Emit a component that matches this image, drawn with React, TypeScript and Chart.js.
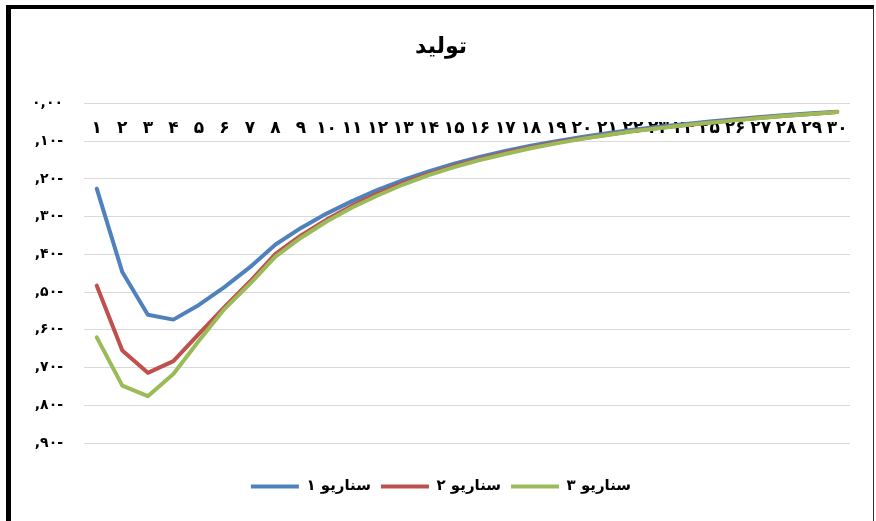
import React, { useEffect, useRef } from 'react';
import { Chart, registerables } from 'chart.js';

Chart.register(...registerables);

// Periods along the horizontal axis
const periods = [
  1, 2, 3, 4, 5, 6, 7, 8, 9, 10, 11, 12, 13, 14, 15,
  16, 17, 18, 19, 20, 21, 22, 23, 24, 25, 26, 27, 28, 29, 30,
];

// Production response per scenario
const scenario1 = [
  -0.226, -0.447, -0.560, -0.573, -0.534, -0.487, -0.434, -0.374, -0.330, -0.292,
  -0.259, -0.229, -0.203, -0.180, -0.160, -0.142, -0.126, -0.112, -0.100, -0.089,
  -0.079, -0.070, -0.062, -0.055, -0.048, -0.042, -0.036, -0.031, -0.026, -0.022,
];
const scenario2 = [
  -0.483, -0.655, -0.714, -0.683, -0.611, -0.540, -0.472, -0.399, -0.350, -0.308,
  -0.271, -0.239, -0.211, -0.187, -0.166, -0.147, -0.131, -0.117, -0.104, -0.093,
  -0.083, -0.073, -0.065, -0.058, -0.051, -0.044, -0.038, -0.033, -0.028, -0.023,
];
const scenario3 = [
  -0.620, -0.748, -0.776, -0.717, -0.629, -0.545, -0.478, -0.406, -0.356, -0.313,
  -0.276, -0.244, -0.215, -0.190, -0.169, -0.150, -0.134, -0.119, -0.106, -0.094,
  -0.084, -0.074, -0.066, -0.058, -0.051, -0.045, -0.039, -0.033, -0.028, -0.023,
];

const seriesNames = ['سناریو ۱', 'سناریو ۲', 'سناریو ۳'];
const seriesColors = ['#4F81BD', '#C0504D', '#9BBB59'];
const chartTitle = 'تولید';

const FONT = '"DejaVu Sans", sans-serif';
const PERSIAN_DIGITS = ['۰', '۱', '۲', '۳', '۴', '۵', '۶', '۷', '۸', '۹'];

const toPersian = (s: string) => s.replace(/[0-9]/g, (d) => PERSIAN_DIGITS[Number(d)]);

const formatValue = (v: number) => {
  const body = toPersian(Math.abs(v).toFixed(2)).replace('.', ',');
  return v < -1e-9 ? body + '-' : body;
};

// Period labels sit just under the zero line, inside the plot, beneath the lines
const categoryLabelsPlugin = {
  id: 'categoryLabels',
  beforeDatasetsDraw(chart: any) {
    const { ctx } = chart;
    const xScale = chart.scales.x;
    const yScale = chart.scales.y;
    const y = yScale.getPixelForValue(0) + 25;
    ctx.save();
    ctx.font = `bold 17px ${FONT}`;
    ctx.fillStyle = '#000';
    ctx.textAlign = 'center';
    ctx.textBaseline = 'middle';
    periods.forEach((p, i) => {
      ctx.fillText(toPersian(String(p)), xScale.getPixelForValue(i), y);
    });
    ctx.restore();
  },
};

export default function App() {
  const canvasRef = useRef<HTMLCanvasElement | null>(null);

  useEffect(() => {
    if (!canvasRef.current) return;
    const data = [scenario1, scenario2, scenario3];
    const chart = new Chart(canvasRef.current, {
      type: 'line',
      data: {
        labels: periods.map(String),
        datasets: data.map((values, i) => ({
          label: seriesNames[i],
          data: values,
          borderColor: seriesColors[i],
          backgroundColor: seriesColors[i],
          borderWidth: 4,
          borderCapStyle: 'round' as const,
          borderJoinStyle: 'round' as const,
          pointRadius: 0,
          pointHoverRadius: 0,
          tension: 0,
          fill: false,
          // later scenarios are painted over earlier ones
          order: 3 - i,
        })),
      },
      options: {
        responsive: false,
        animation: false,
        layout: { padding: { top: 0, left: 32, right: 26, bottom: 17 } },
        plugins: {
          title: {
            display: true,
            text: chartTitle,
            color: '#000',
            font: { family: FONT, size: 22, weight: 'bold' },
            padding: { top: 34, bottom: 43 },
          },
          legend: {
            position: 'bottom',
            labels: {
              usePointStyle: true,
              pointStyle: 'line',
              pointStyleWidth: 48,
              padding: 10,
              color: '#000',
              font: { family: FONT, size: 15, weight: 'bold' },
              sort: (a: any, b: any) => a.datasetIndex - b.datasetIndex,
            },
          },
          tooltip: { enabled: false },
        },
        scales: {
          x: {
            offset: true,
            ticks: { display: false },
            grid: {
              display: true,
              drawOnChartArea: false,
              drawTicks: true,
              tickLength: 26,
              color: 'rgba(0,0,0,0)',
            },
            border: { display: false },
          },
          y: {
            min: -0.9,
            max: 0,
            ticks: {
              stepSize: 0.1,
              padding: 21,
              color: '#000',
              font: { family: FONT, size: 14, weight: 'bold' },
              callback: (v: any) => formatValue(Number(v)),
            },
            grid: { color: '#D9D9D9', lineWidth: 1, drawTicks: false },
            border: { display: false },
            afterFit: (scale: any) => {
              scale.width = 52;
            },
          },
        },
      },
      plugins: [categoryLabelsPlugin],
    });
    return () => chart.destroy();
  }, []);

  return (
    <div
      style={{
        position: 'fixed',
        left: 0,
        top: 0,
        width: 876,
        height: 521,
        background: '#fff',
        overflow: 'hidden',
      }}
    >
      <div
        style={{
          position: 'absolute',
          left: 6,
          top: 5,
          width: 862,
          height: 600,
          borderLeft: '5px solid #000',
          borderTop: '4px solid #000',
          borderRight: '1px solid #333',
        }}
      />
      <canvas
        ref={canvasRef}
        width={876}
        height={521}
        style={{ position: 'absolute', left: 0, top: 0 }}
      />
    </div>
  );
}
